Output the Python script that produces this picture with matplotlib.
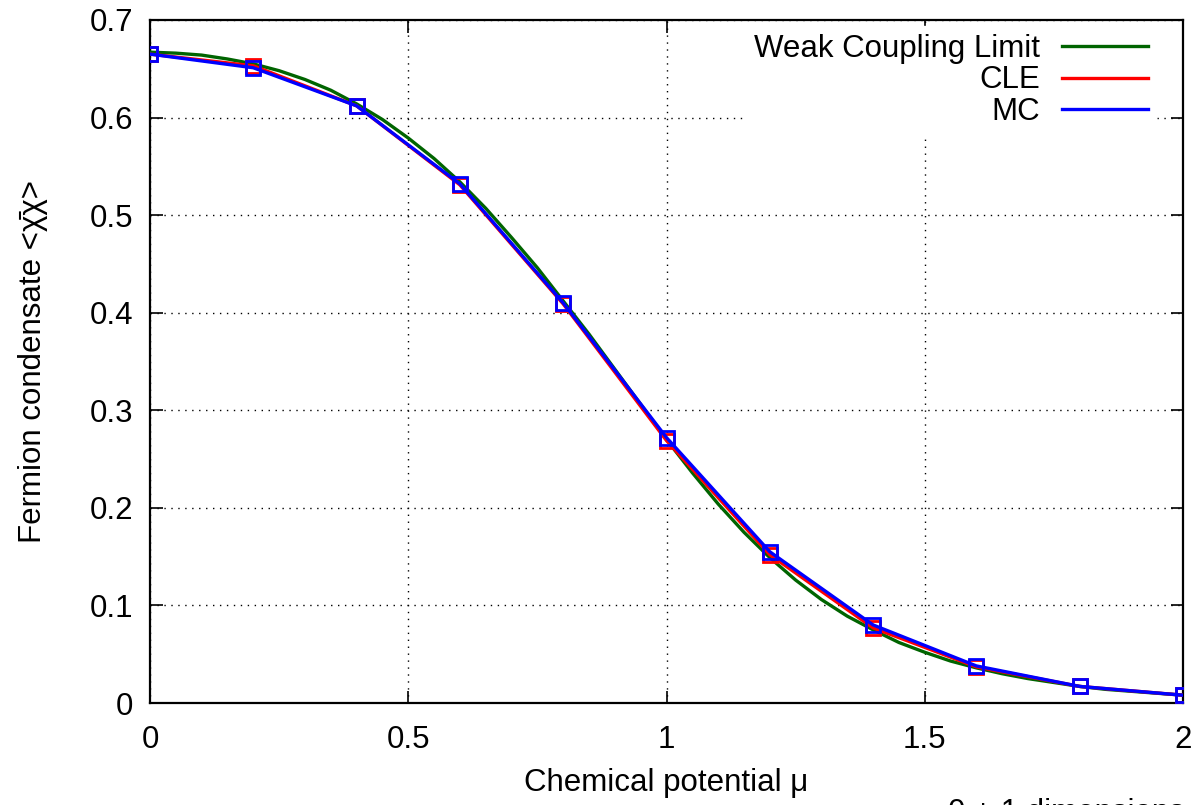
import matplotlib
matplotlib.use("Agg")
import matplotlib.pyplot as plt
from matplotlib.lines import Line2D

plt.rcParams['font.family'] = ['Liberation Sans', 'DejaVu Sans']

# Data
mu_wcl = [0.0, 0.05, 0.1, 0.15, 0.2, 0.25, 0.3, 0.35, 0.4, 0.45, 0.5,
          0.55, 0.6, 0.65, 0.7, 0.75, 0.8, 0.85, 0.9, 0.95, 1.0,
          1.05, 1.1, 1.15, 1.2, 1.25, 1.3, 1.35, 1.4, 1.45, 1.5,
          1.55, 1.6, 1.65, 1.7, 1.75, 1.8, 1.85, 1.9, 1.95, 2.0]
wcl = [0.667, 0.666, 0.664, 0.660, 0.655, 0.648, 0.639, 0.628, 0.614, 0.598, 0.579,
       0.558, 0.534, 0.507, 0.477, 0.446, 0.412, 0.378, 0.342, 0.306, 0.270,
       0.236, 0.204, 0.175, 0.149, 0.126, 0.106, 0.089, 0.075, 0.062, 0.052,
       0.043, 0.036, 0.030, 0.025, 0.021, 0.017, 0.014, 0.012, 0.010, 0.008]

mu_pts = [0.0, 0.2, 0.4, 0.6, 0.8, 1.0, 1.2, 1.4, 1.6, 1.8, 2.0]
cle = [0.665, 0.653, 0.612, 0.531, 0.409, 0.269, 0.152, 0.077, 0.037, 0.017, 0.008]
mc = [0.665, 0.651, 0.612, 0.532, 0.410, 0.272, 0.155, 0.080, 0.038, 0.017, 0.008]

labels = ["Weak Coupling Limit", "CLE", "MC"]
colors = ["#006400", "#ff0000", "#0000ff"]

FS = 22.5

fig = plt.figure(figsize=(11.98, 8.05), dpi=100)
ax = fig.add_axes([0.1252, 0.1267, 0.9875 - 0.1252, 0.9752 - 0.1267])

ax.plot(mu_wcl, wcl, color=colors[0], lw=2.4, zorder=3)
ax.plot(mu_pts, cle, color=colors[1], lw=2.4, marker='s', ms=10, mfc='none',
        mec=colors[1], mew=2, zorder=4)
ax.plot(mu_pts, mc, color=colors[2], lw=2.4, marker='s', ms=10, mfc='none',
        mec=colors[2], mew=2, zorder=5)

ax.set_xlim(0, 2)
ax.set_ylim(0, 0.7)
ax.set_xticks([0, 0.5, 1, 1.5, 2])
ax.set_xticklabels(["0", "0.5", "1", "1.5", "2"])
ax.set_yticks([0, 0.1, 0.2, 0.3, 0.4, 0.5, 0.6, 0.7])
ax.set_yticklabels(["0", "0.1", "0.2", "0.3", "0.4", "0.5", "0.6", "0.7"])
ax.tick_params(direction='in', length=9, width=1.2, top=True, right=True,
               labelsize=FS)
ax.tick_params(axis='x', pad=16)
ax.tick_params(axis='y', pad=12)
ax.grid(True, color='black', linestyle=(0, (1, 4)), lw=1.0)
for s in ax.spines.values():
    s.set_linewidth(1.6)

ax.set_xlabel("Chemical potential μ", fontsize=FS, labelpad=9)
ax.set_ylabel("Fermion condensate <χ̄χ>", fontsize=FS, labelpad=30)

handles = [Line2D([], [], color=c, lw=2.4) for c in colors]
leg = ax.legend(handles, labels, loc='upper right', bbox_to_anchor=(0.9735, 0.991),
                fontsize=FS, frameon=True, fancybox=False, framealpha=1.0,
                edgecolor='white', markerfirst=False, handlelength=2.75,
                handletextpad=0.7, labelspacing=0.05, borderpad=0.25,
                borderaxespad=0.0)
for t in leg.get_texts():
    t.set_ha('right')
leg._legend_box.align = "right"
leg.set_zorder(6)

fig.text(0.791, 0.0087, "0 + 1 dimensions", fontsize=FS, ha='left', va='top')

fig.savefig("out.png", dpi=100)
